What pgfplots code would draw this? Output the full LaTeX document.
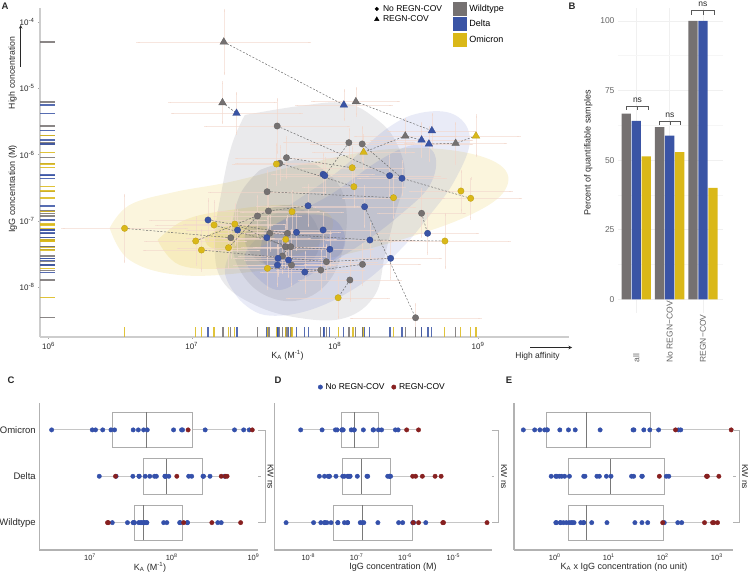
\documentclass[border=0pt]{standalone}
\usepackage{fontspec}
\setmainfont{Liberation Sans}
\usepackage{pgfplots}
\usepackage{pgfplotstable}
\usepgfplotslibrary{statistics}
\pgfplotsset{compat=1.18}
\pgfplotsset{/pgf/number format/assume math mode=true}
\definecolor{gV}{RGB}{117,113,113}
\definecolor{bV}{RGB}{58,84,165}
\definecolor{yV}{RGB}{218,184,24}
\definecolor{bD}{RGB}{52,80,170}
\definecolor{rD}{RGB}{135,32,32}
\definecolor{errc}{RGB}{242,214,202}
\definecolor{axc}{RGB}{205,205,205}
\definecolor{txt}{RGB}{40,40,40}
\definecolor{gF}{RGB}{140,140,152}
\definecolor{bF}{RGB}{100,115,200}
\definecolor{yF}{RGB}{235,210,100}

% columns: x = log10 KA, y = log10 IgG, p = log10 (KA x IgG), ex, ey = error (decades)
\pgfplotstableread{
x y p ex ey
7.597 -5.569 2.028 0.50 0.40
7.662 -6.047 1.615 0.35 0.30
7.615 -6.131 1.484 0.30 0.25
8.098 -5.820 2.278 0.45 0.20
8.191 -5.840 2.351 0.35 0.25
7.527 -6.560 0.967 0.40 0.30
7.536 -6.851 0.685 0.35 0.25
7.459 -6.926 0.533 0.30 0.30
8.606 -6.885 1.721 0.30 0.35
7.273 -7.253 0.020 0.30 0.30
7.545 -7.187 0.358 0.35 0.25
7.669 -7.187 0.482 0.30 0.25
7.655 -7.389 0.266 0.30 0.30
7.692 -7.389 0.303 0.25 0.25
7.634 -7.529 0.105 0.30 0.25
7.697 -7.665 0.032 0.30 0.30
7.941 -7.615 0.326 0.35 0.25
7.902 -7.741 0.161 0.30 0.30
8.193 -7.655 0.538 0.40 0.30
8.105 -7.891 0.214 0.35 0.30
8.564 -8.460 0.104 0.45 0.20
}\gC
\pgfplotstableread{
x y p ex ey
7.224 -4.302 2.922 0.60 0.48
7.215 -5.217 1.998 0.37 0.30
8.147 -5.202 2.945 0.30 0.20
8.492 -5.719 2.773 0.35 0.25
8.844 -5.830 3.014 0.35 0.30
}\gT
\pgfplotstableread{
x y p ex ey
7.918 -6.297 1.621 0.35 0.30
7.930 -6.318 1.612 0.30 0.25
8.383 -6.318 2.065 0.35 0.30
8.469 -6.357 2.112 0.30 0.25
7.813 -6.771 1.042 0.35 0.30
8.208 -6.786 1.422 0.35 0.30
8.648 -7.187 1.461 0.35 0.30
8.245 -7.288 0.957 0.30 0.25
7.732 -7.172 0.560 0.30 0.25
7.918 -7.137 0.781 0.35 0.25
7.525 -7.253 0.272 0.30 0.30
7.965 -7.428 0.537 0.30 0.25
7.603 -7.564 0.039 0.30 0.25
7.676 -7.590 0.086 0.30 0.25
7.599 -7.665 -0.066 0.30 0.30
7.790 -7.771 0.019 0.30 0.30
8.390 -7.564 0.826 0.35 0.30
7.114 -6.986 0.128 0.40 0.30
7.320 -7.137 0.183 0.35 0.30
}\bC
\pgfplotstableread{
x y p ex ey
7.313 -5.377 1.936 0.45 0.30
8.063 -5.252 2.811 0.33 0.22
8.678 -5.640 3.038 0.30 0.25
8.606 -5.780 2.826 0.35 0.25
8.657 -5.840 2.817 0.30 0.25
}\bT
\pgfplotstableread{
x y p ex ey
7.592 -6.142 1.450 0.30 0.30
8.121 -6.198 1.923 0.35 0.30
8.133 -6.484 1.649 0.35 0.30
8.881 -6.549 2.332 0.35 0.30
8.949 -6.659 2.290 0.35 0.30
8.410 -6.650 1.760 0.35 0.30
7.701 -6.861 0.840 0.35 0.30
8.769 -7.303 1.466 0.45 0.40
7.529 -7.715 -0.186 0.35 0.30
8.023 -8.158 -0.135 0.35 0.30
6.531 -7.112 -0.581 0.43 0.50
7.156 -7.062 0.094 0.40 0.35
7.301 -7.047 0.254 0.35 0.30
7.028 -7.303 -0.275 0.35 0.35
7.257 -7.404 -0.147 0.35 0.30
7.068 -7.439 -0.371 0.40 0.30
7.657 -7.278 0.379 0.35 0.30
}\yC
\pgfplotstableread{
x y p ex ey
8.986 -5.719 3.267 0.30 0.30
8.201 -5.965 2.236 0.35 0.25
}\yT

\pgfplotsset{
  errbars/.style={draw=none, mark=none, forget plot,
    error bars/.cd, x dir=both, x explicit, y dir=both, y explicit,
    error bar style={draw=errc, line width=0.35pt, opacity=0.6},
    error mark options={draw=errc, mark size=1.6pt, line width=0.35pt, opacity=0.6}},
  dsh/.style={gray!85!black, line width=0.5pt, dash pattern=on 2pt off 1.6pt, forget plot},
  cont/.style={draw=none, smooth, tension=0.65, forget plot},
  boxp/.style={scale only axis, height=147pt, anchor=north west,
    ymin=0.41, ymax=3.58, ytick={1,2,3},
    axis x line*=bottom, axis y line*=left,
    axis line style={gray!60, line width=1.2pt}, tick pos=left,
    major tick length=0pt,
    xticklabel style={font=\fontsize{7.5}{8}\selectfont, text=txt},
    yticklabel style={font=\fontsize{9.5}{10}\selectfont, text=txt},
    boxplot/draw direction=x, clip=false,
    boxplot/whisker extend=0,
    boxplot/every box/.style={draw=gray!65, line width=0.6pt},
    boxplot/every whisker/.style={draw=gray!45, line width=0.9pt},
    boxplot/every median/.style={draw=gray!95!black, line width=0.8pt}},
  bx/.style={forget plot, mark=none, boxplot prepared={#1, box extend=0.76}},
  ddot/.style={only marks, mark=*, mark size=2.2pt, forget plot, color=#1, mark options={draw=#1, fill=#1}},
}

\begin{document}
\begin{tikzpicture}
\useasboundingbox (0pt,0pt) rectangle (750pt,-580pt);

%================ Panel A
\begin{axis}[
  scale only axis, width=529pt, height=329pt,
  at={(40pt,-8pt)}, anchor=north west,
  xmin=5.94, xmax=9.636, ymin=-8.75, ymax=-3.79,
  axis x line*=bottom, axis y line*=left, tick pos=left,
  axis line style={axc, line width=2pt},
  xtick={6,7,8,9},
  xticklabels={10\textsuperscript{6},10\textsuperscript{7},10\textsuperscript{8},10\textsuperscript{9}},
  ytick={-8,-7,-6,-5,-4},
  yticklabels={10\textsuperscript{-8},10\textsuperscript{-7},10\textsuperscript{-6},10\textsuperscript{-5},10\textsuperscript{-4}},
  tick style={gray!70}, major tick length=2pt, tick align=outside,
  ticklabel style={font=\fontsize{8}{9}\selectfont, text=txt},
]
% density regions
\addplot[cont, fill=yF, fill opacity=0.22] coordinates {(6.427,-7.107) (6.566,-6.760) (6.881,-6.564) (7.266,-6.413) (7.755,-6.157) (8.315,-5.931) (8.804,-5.931) (9.154,-6.157) (9.189,-6.534) (8.944,-6.911) (8.455,-7.288) (7.895,-7.590) (7.406,-7.771) (6.916,-7.816) (6.566,-7.590) (6.427,-7.107)};
\addplot[cont, fill=gF, fill opacity=0.18] coordinates {(7.371,-5.403) (7.755,-5.267) (8.070,-5.222) (8.280,-5.448) (8.420,-5.780) (8.490,-6.308) (8.420,-6.911) (8.350,-7.514) (8.280,-8.118) (8.070,-8.464) (7.755,-8.464) (7.441,-8.268) (7.210,-7.891) (7.161,-7.288) (7.210,-6.534) (7.280,-5.855) (7.371,-5.403)};
\addplot[cont, fill=bF, fill opacity=0.14] coordinates {(7.336,-8.193) (7.231,-7.741) (7.371,-7.213) (7.685,-6.760) (8.035,-6.232) (8.350,-5.629) (8.594,-5.373) (8.839,-5.403) (8.944,-5.780) (8.839,-6.383) (8.664,-6.911) (8.455,-7.439) (8.175,-7.967) (7.825,-8.344) (7.510,-8.419) (7.336,-8.193)};
\addplot[cont, fill=yF, fill opacity=0.25] coordinates {(6.762,-7.288) (6.951,-6.986) (7.266,-6.836) (7.685,-6.760) (7.965,-6.911) (7.930,-7.288) (7.650,-7.560) (7.266,-7.710) (6.916,-7.665) (6.762,-7.288)};
\addplot[cont, fill=gF, fill opacity=0.2] coordinates {(7.476,-6.232) (7.755,-6.081) (7.965,-6.308) (8.070,-6.685) (8.070,-7.288) (7.965,-7.891) (7.755,-8.193) (7.510,-8.118) (7.336,-7.741) (7.280,-7.213) (7.336,-6.609) (7.476,-6.232)};
\addplot[cont, fill=bF, fill opacity=0.16] coordinates {(7.476,-7.891) (7.371,-7.514) (7.580,-7.062) (7.965,-6.609) (8.315,-6.081) (8.559,-5.855) (8.699,-6.006) (8.664,-6.459) (8.455,-6.911) (8.175,-7.364) (7.825,-7.816) (7.615,-8.042) (7.476,-7.891)};
\addplot[cont, fill=yF, fill opacity=0.3] coordinates {(7.091,-7.258) (7.231,-7.092) (7.441,-7.062) (7.580,-7.183) (7.490,-7.379) (7.266,-7.439) (7.126,-7.394) (7.091,-7.258)};
\addplot[cont, fill=gF, fill opacity=0.25] coordinates {(7.441,-6.911) (7.650,-6.760) (7.825,-6.911) (7.895,-7.288) (7.825,-7.620) (7.615,-7.710) (7.441,-7.560) (7.371,-7.258) (7.441,-6.911)};
\addplot[cont, fill=bF, fill opacity=0.2] coordinates {(7.510,-7.137) (7.755,-6.911) (8.000,-6.986) (8.070,-7.364) (7.930,-7.665) (7.685,-7.771) (7.490,-7.590) (7.510,-7.137)};
% error bars
\addplot[errbars] table[x=x,y=y,x error=ex,y error=ey] {\gC};
\addplot[errbars] table[x=x,y=y,x error=ex,y error=ey] {\gT};
\addplot[errbars] table[x=x,y=y,x error=ex,y error=ey] {\bC};
\addplot[errbars] table[x=x,y=y,x error=ex,y error=ey] {\bT};
\addplot[errbars] table[x=x,y=y,x error=ex,y error=ey] {\yC};
\addplot[errbars] table[x=x,y=y,x error=ex,y error=ey] {\yT};
% sample lines
\addplot[dsh] coordinates {(7.224,-4.302) (8.063,-5.252)};
\addplot[dsh] coordinates {(7.215,-5.217) (7.313,-5.377)};
\addplot[dsh] coordinates {(8.147,-5.202) (8.678,-5.640)};
\addplot[dsh] coordinates {(8.201,-5.965) (8.492,-5.719) (8.606,-5.780)};
\addplot[dsh] coordinates {(8.657,-5.840) (8.844,-5.830) (8.986,-5.719)};
\addplot[dsh] coordinates {(7.597,-5.569) (8.383,-6.318)};
\addplot[dsh] coordinates {(8.191,-5.840) (8.469,-6.357) (8.949,-6.659)};
\addplot[dsh] coordinates {(7.615,-6.131) (8.133,-6.484)};
\addplot[dsh] coordinates {(7.527,-6.560) (8.410,-6.650)};
\addplot[dsh] coordinates {(8.208,-6.786) (8.564,-8.460)};
\addplot[dsh] coordinates {(8.606,-6.885) (8.648,-7.187)};
\addplot[dsh] coordinates {(7.545,-7.187) (8.245,-7.288) (8.769,-7.303)};
\addplot[dsh] coordinates {(6.531,-7.112) (7.273,-7.253)};
\addplot[dsh] coordinates {(7.028,-7.303) (7.536,-6.851) (7.813,-6.771)};
\addplot[dsh] coordinates {(7.068,-7.439) (7.941,-7.615) (8.390,-7.564)};
\addplot[dsh] coordinates {(8.105,-7.891) (8.023,-8.158)};
\addplot[dsh] coordinates {(7.257,-7.404) (7.459,-6.926)};
\addplot[dsh] coordinates {(7.301,-7.047) (7.655,-7.389) (7.965,-7.428)};
\addplot[dsh] coordinates {(7.529,-7.715) (7.902,-7.741)};
\addplot[dsh] coordinates {(8.098,-5.820) (7.930,-6.318)};
\addplot[dsh] coordinates {(7.114,-6.986) (7.669,-7.187)};
\addplot[dsh] coordinates {(7.156,-7.062) (7.692,-7.389) (7.603,-7.564)};
\addplot[dsh] coordinates {(8.193,-7.655) (7.790,-7.771)};
\addplot[dsh] coordinates {(7.662,-6.047) (8.121,-6.198)};
\addplot[dsh] coordinates {(7.634,-7.529) (7.676,-7.590)};
% points
\addplot[only marks, mark=*, mark size=3.2pt, mark options={fill=gV, draw=gV!85!black, line width=0.3pt}] table[x=x,y=y] {\gC};
\addplot[only marks, mark=*, mark size=3.2pt, mark options={fill=bV, draw=bV!85!black, line width=0.3pt}] table[x=x,y=y] {\bC};
\addplot[only marks, mark=*, mark size=3.2pt, mark options={fill=yV, draw=yV!85!black, line width=0.3pt}] table[x=x,y=y] {\yC};
\addplot[only marks, mark=triangle*, mark size=4.4pt, mark options={fill=gV, draw=gV!85!black, line width=0.3pt}] table[x=x,y=y] {\gT};
\addplot[only marks, mark=triangle*, mark size=4.4pt, mark options={fill=bV, draw=bV!85!black, line width=0.3pt}] table[x=x,y=y] {\bT};
\addplot[only marks, mark=triangle*, mark size=4.4pt, mark options={fill=yV, draw=yV!85!black, line width=0.3pt}] table[x=x,y=y] {\yT};
% rugs
\addplot[only marks, mark=-, mark size=7.5pt, mark options={gV, line width=1.1pt, opacity=0.85}] table[x expr=5.99, y=y] {\gC};
\addplot[only marks, mark=-, mark size=7.5pt, mark options={gV, line width=1.1pt, opacity=0.85}] table[x expr=5.99, y=y] {\gT};
\addplot[only marks, mark=-, mark size=7.5pt, mark options={bV, line width=1.1pt, opacity=0.85}] table[x expr=5.99, y=y] {\bC};
\addplot[only marks, mark=-, mark size=7.5pt, mark options={bV, line width=1.1pt, opacity=0.85}] table[x expr=5.99, y=y] {\bT};
\addplot[only marks, mark=-, mark size=7.5pt, mark options={yV, line width=1.1pt, opacity=0.85}] table[x expr=5.99, y=y] {\yC};
\addplot[only marks, mark=-, mark size=7.5pt, mark options={yV, line width=1.1pt, opacity=0.85}] table[x expr=5.99, y=y] {\yT};
\addplot[only marks, mark=|, mark size=5pt, mark options={gV, line width=1.1pt, opacity=0.85}] table[x=x, y expr=-8.676] {\gC};
\addplot[only marks, mark=|, mark size=5pt, mark options={gV, line width=1.1pt, opacity=0.85}] table[x=x, y expr=-8.676] {\gT};
\addplot[only marks, mark=|, mark size=5pt, mark options={bV, line width=1.1pt, opacity=0.85}] table[x=x, y expr=-8.676] {\bC};
\addplot[only marks, mark=|, mark size=5pt, mark options={bV, line width=1.1pt, opacity=0.85}] table[x=x, y expr=-8.676] {\bT};
\addplot[only marks, mark=|, mark size=5pt, mark options={yV, line width=1.1pt, opacity=0.85}] table[x=x, y expr=-8.676] {\yC};
\addplot[only marks, mark=|, mark size=5pt, mark options={yV, line width=1.1pt, opacity=0.85}] table[x=x, y expr=-8.676] {\yT};
\end{axis}

% legend: shapes
\begin{axis}[scale only axis, width=529pt, height=329pt, at={(40pt,-8pt)}, anchor=north west,
  hide axis, xmin=0, xmax=1, ymin=0, ymax=1,
  legend style={at={(0.632,1.0152)}, anchor=north west, draw=none, fill=none,
    font=\fontsize{8.5}{9}\selectfont, inner sep=0pt, row sep=-1pt,
    nodes={inner xsep=4pt}},
  legend cell align=left,
  legend image code/.code={\draw[mark repeat=2,mark phase=2,#1] plot coordinates {(0pt,0pt) (5pt,0pt) (10pt,0pt)};}]
\addlegendimage{only marks, mark=*, mark size=1.8pt, black}
\addlegendentry{No REGN-COV}
\addlegendimage{only marks, mark=triangle*, mark size=2.6pt, black}
\addlegendentry{REGN-COV}
\end{axis}
% legend: variants
\begin{axis}[scale only axis, width=529pt, height=329pt, at={(40pt,-8pt)}, anchor=north west,
  hide axis, xmin=0, xmax=1, ymin=0, ymax=1,
  legend style={at={(0.781,1.02)}, anchor=north west, draw=none, fill=none,
    font=\fontsize{9}{10}\selectfont, inner sep=0pt, row sep=1.5pt,
    nodes={inner xsep=2pt}},
  legend cell align=left,
  legend image code/.code={\fill[#1] (0pt,-7pt) rectangle (14pt,7pt);}]
\addlegendimage{fill=gV, draw=none}
\addlegendentry{Wildtype}
\addlegendimage{fill=bV, draw=none}
\addlegendentry{Delta}
\addlegendimage{fill=yV, draw=none}
\addlegendentry{Omicron}
\end{axis}

%================ Panel B
\begin{axis}[
  scale only axis, width=104.7pt, height=305pt,
  at={(618pt,-8pt)}, anchor=north west,
  xmin=0.452, xmax=3.59, ymin=-4.9, ymax=104.6,
  ybar=0.6pt, bar width=9.4pt,
  axis line style={draw=none}, major tick length=0pt, minor tick length=0pt,
  xtick={1,2,3}, xticklabels={},
  ytick={0,25,50,75,100}, minor ytick={12.5,37.5,62.5,87.5},
  ymajorgrids, xmajorgrids, yminorgrids,
  major grid style={gray!12, line width=0.6pt},
  minor grid style={gray!7, line width=0.4pt},
  yticklabel style={font=\fontsize{8.5}{9}\selectfont, text=gray!80!black},
  clip=false]
\addplot[fill=gV, draw=none] coordinates {(1,66.7) (2,61.8) (3,100)};
\addplot[fill=bV, draw=none] coordinates {(1,64.1) (2,58.8) (3,100)};
\addplot[fill=yV, draw=none] coordinates {(1,51.3) (2,52.9) (3,40)};
\end{axis}

%================ Panel C
\begin{axis}[boxp, width=219pt, at={(39.3pt,-403pt)},
  xmin=6.38, xmax=9.06, xtick={7,8,9},
  xticklabels={10\textsuperscript{7},10\textsuperscript{8},10\textsuperscript{9}},
  yticklabels={Wildtype,Delta,Omicron}]
\addplot[bx={lower whisker=6.531, lower quartile=7.273, median=7.69, upper quartile=8.257, upper whisker=8.986, draw position=3}] coordinates {};
\addplot[bx={lower whisker=7.114, lower quartile=7.65, median=7.93, upper quartile=8.38, upper whisker=8.678, draw position=2}] coordinates {};
\addplot[bx={lower whisker=7.215, lower quartile=7.54, median=7.66, upper quartile=8.13, upper whisker=8.844, draw position=1}] coordinates {};
\addplot[ddot=bD] table[x=x, y expr=3] {\yC};
\addplot[ddot=rD] table[x=x, y expr=3] {\yT};
\addplot[ddot=bD] table[x=x, y expr=2] {\bC};
\addplot[ddot=rD] table[x=x, y expr=2] {\bT};
\addplot[ddot=bD] table[x=x, y expr=1] {\gC};
\addplot[ddot=rD] table[x=x, y expr=1] {\gT};
\end{axis}

%================ Panel D
\begin{axis}[boxp, width=217.4pt, at={(274.3pt,-403pt)},
  xmin=-8.704, xmax=-4.205, xtick={-8,-7,-6,-5},
  xticklabels={10\textsuperscript{-8},10\textsuperscript{-7},10\textsuperscript{-6},10\textsuperscript{-5}},
  yticklabels={},
  legend columns=2,
  legend style={at={(0.5,1.068)}, anchor=south, draw=none, fill=none,
    font=\fontsize{8.5}{9}\selectfont, inner sep=0pt, nodes={inner xsep=3pt},
    /tikz/every even column/.append style={column sep=4pt}},
  legend image code/.code={\draw[mark repeat=2,mark phase=2,#1] plot coordinates {(0pt,0pt) (3pt,0pt) (6pt,0pt)};}]
\addlegendimage{only marks, mark=*, mark size=2.2pt, bD}
\addlegendentry{No REGN-COV}
\addlegendimage{only marks, mark=*, mark size=2.2pt, rD}
\addlegendentry{REGN-COV}
\addplot[bx={lower whisker=-8.158, lower quartile=-7.308, median=-7.048, upper quartile=-6.551, upper whisker=-5.719, draw position=3}] coordinates {};
\addplot[bx={lower whisker=-7.771, lower quartile=-7.288, median=-6.894, upper quartile=-6.294, upper whisker=-5.252, draw position=2}] coordinates {};
\addplot[bx={lower whisker=-8.460, lower quartile=-7.482, median=-6.888, upper quartile=-5.839, upper whisker=-4.302, draw position=1}] coordinates {};
\addplot[ddot=bD] table[x=y, y expr=3] {\yC};
\addplot[ddot=rD] table[x=y, y expr=3] {\yT};
\addplot[ddot=bD] table[x=y, y expr=2] {\bC};
\addplot[ddot=rD] table[x=y, y expr=2] {\bT};
\addplot[ddot=bD] table[x=y, y expr=1] {\gC};
\addplot[ddot=rD] table[x=y, y expr=1] {\gT};
\end{axis}

%================ Panel E
\begin{axis}[boxp, width=219pt, at={(514pt,-403pt)},
  xmin=-0.754, xmax=3.30, xtick={0,1,2,3},
  xticklabels={10\textsuperscript{0},10\textsuperscript{1},10\textsuperscript{2},10\textsuperscript{3}},
  yticklabels={}]
\addplot[bx={lower whisker=-0.581, lower quartile=-0.165, median=0.594, upper quartile=1.778, upper whisker=3.267, draw position=3}] coordinates {};
\addplot[bx={lower whisker=-0.066, lower quartile=0.257, median=1.029, upper quartile=2.03, upper whisker=3.038, draw position=2}] coordinates {};
\addplot[bx={lower whisker=0.020, lower quartile=0.257, median=0.594, upper quartile=2.005, upper whisker=3.014, draw position=1}] coordinates {};
\addplot[ddot=bD] table[x=p, y expr=3] {\yC};
\addplot[ddot=rD] table[x=p, y expr=3] {\yT};
\addplot[ddot=bD] table[x=p, y expr=2] {\bC};
\addplot[ddot=rD] table[x=p, y expr=2] {\bT};
\addplot[ddot=bD] table[x=p, y expr=1] {\gC};
\addplot[ddot=rD] table[x=p, y expr=1] {\gT};
\end{axis}

%================ annotations (pixel frame)
\begin{scope}[x=1pt, y=-1pt, font=\fontsize{9}{10}\selectfont, text=txt]
% panel letters
\node[font=\fontsize{9.5}{10}\selectfont\bfseries] at (5,6) {A};
\node[font=\fontsize{9.5}{10}\selectfont\bfseries] at (572,6) {B};
\node[font=\fontsize{9.5}{10}\selectfont\bfseries] at (11,380) {C};
\node[font=\fontsize{9.5}{10}\selectfont\bfseries] at (278,380) {D};
\node[font=\fontsize{9.5}{10}\selectfont\bfseries] at (509,380) {E};
% panel A labels
\node[rotate=90, font=\fontsize{8.7}{9}\selectfont] at (12.7,73) {High concentration};
\draw[-stealth, line width=0.6pt, txt] (20.7,67) -- (20.7,25);
\node[rotate=90] at (12.7,189) {IgG concentration (M)};
\node at (287.5,355) {K\textsubscript{A} (M\textsuperscript{-1})};
\node[font=\fontsize{8.5}{9}\selectfont] at (537.5,356) {High affinity};
\draw[-stealth, line width=0.6pt, txt] (530,347.5) -- (572,347.5);
% panel B labels
\node[rotate=90] at (588.3,153) {Percent of quantifiable samples};
\begin{scope}[font=\fontsize{8.5}{9}\selectfont, text=gray!80!black]
\node[rotate=90, anchor=west] at (636.3,366) {all};
\node[rotate=90, anchor=west] at (669.7,366) {No REGN−COV};
\node[rotate=90, anchor=west] at (703,366) {REGN−COV};
\end{scope}
\begin{scope}[gray!70!black, line width=0.5pt]
\draw (626.7,110) -- (626.7,106) -- (648.3,106) -- (648.3,110);
\draw (637.5,106) -- (637.5,110);
\draw (659,125.3) -- (659,121.3) -- (680.7,121.3) -- (680.7,125.3);
\draw (669.8,121.3) -- (669.8,125.3);
\draw (691.7,14.7) -- (691.7,10.7) -- (714,10.7) -- (714,14.7);
\draw (702.8,10.7) -- (702.8,14.7);
\end{scope}
\begin{scope}[font=\fontsize{8.5}{9}\selectfont, text=gray!30!black]
\node at (637.5,100) {ns};
\node at (669.8,115.5) {ns};
\node at (702.8,4.5) {ns};
\end{scope}
% panel C/D/E x labels
\node at (150,567) {K\textsubscript{A} (M\textsuperscript{-1})};
\node at (393,567) {IgG concentration (M)};
\node at (624,567) {K\textsubscript{A} x IgG concentration (no unit)};
% KW brackets
\begin{scope}[gray!60, line width=0.6pt]
\draw (258.3,430) -- (265,430) -- (265,522.7) -- (258.3,522.7);
\draw (258.3,476.7) -- (261,476.7);
\draw (491.7,430) -- (498.3,430) -- (498.3,522.7) -- (491.7,522.7);
\draw (491.7,476.7) -- (494.4,476.7);
\draw (733,430) -- (739.5,430) -- (739.5,522.7) -- (733,522.7);
\draw (733,476.7) -- (735.7,476.7);
\end{scope}
\node[rotate=-90, font=\fontsize{8.5}{9}\selectfont] at (270.5,476.7) {KW ns};
\node[rotate=-90, font=\fontsize{8.5}{9}\selectfont] at (504,476.7) {KW ns};
\node[rotate=-90, font=\fontsize{8.5}{9}\selectfont] at (745,476.7) {KW ns};
\end{scope}
\end{tikzpicture}
\end{document}
